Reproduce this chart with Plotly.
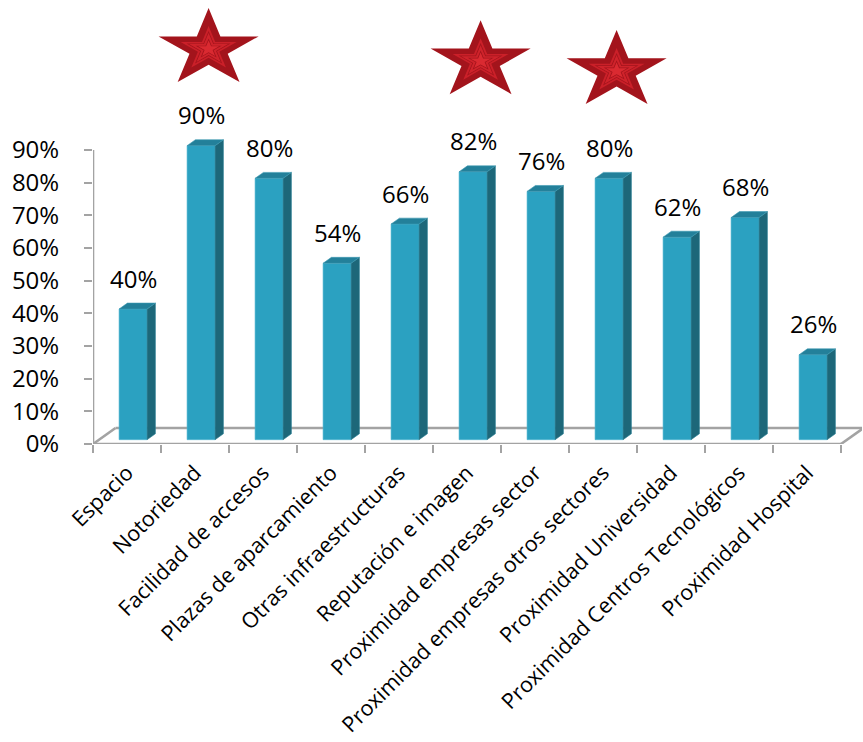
import math
import plotly.graph_objects as go

# ---- data -------------------------------------------------------------
categories = [
    "Espacio",
    "Notoriedad",
    "Facilidad de accesos",
    "Plazas de aparcamiento",
    "Otras infraestructuras",
    "Reputación e imagen",
    "Proximidad empresas sector",
    "Proximidad empresas otros sectores",
    "Proximidad Universidad",
    "Proximidad Centros Tecnológicos",
    "Proximidad Hospital",
]
values = [40, 90, 80, 54, 66, 82, 76, 80, 62, 68, 26]
y_ticks = [0, 10, 20, 30, 40, 50, 60, 70, 80, 90]
y_tick_labels = [f"{v}%" for v in y_ticks]
starred = ["Notoriedad", "Reputación e imagen", "Proximidad empresas otros sectores"]

# ---- layout / style ---------------------------------------------------
W, H = 863, 742
M_L, M_R, M_T, M_B = 93, 1, 0, 298
PX_X = 68.0          # pixels per category
PX_Y = 3.267         # pixels per percentage point
X0 = -0.5
X_RANGE = [X0, X0 + (W - M_L - M_R) / PX_X]
Y_RANGE = [0, (H - M_T - M_B) / PX_Y]

DEPTH_X = 22.5 / PX_X   # horizontal shift for the full floor depth
DEPTH_Y = 16.0 / PX_Y   # vertical shift for the full floor depth
Z_FRONT, Z_BACK = 0.27, 0.64
BAR_W = 28.0 / PX_X

FRONT = "#2BA1C1"
SIDE = "#1D6779"
TOP = "#23809A"
AXIS_GRAY = "#A3A3A3"
FONT = "Open Sans"

# star placement (category offset, centre height in %) and look
STAR_DX = 0.2
STAR_Y = [120.9, 117.2, 114.2]
STAR_RX, STAR_RY, STAR_INNER = 52.6, 40.9, 0.382
STAR_LAYERS = [(1.0, "#A3141C"), (0.56, "#CB2029"), (0.44, "#A3141C"),
               (0.39, "#CF232B"), (0.26, "#A3141C"), (0.21, "#DA2A31")]


def proj(x, y, z):
    return x + z * DEPTH_X, y + z * DEPTH_Y


fig = go.Figure()

base = Z_FRONT * DEPTH_Y
xs_front = [i + Z_FRONT * DEPTH_X for i in range(len(values))]
dz = Z_BACK - Z_FRONT

# front faces
fig.add_trace(go.Bar(
    x=xs_front, y=values, base=[base] * len(values), width=BAR_W,
    marker=dict(color=FRONT, line=dict(width=0.6, color="#4FB6D2")),
    hoverinfo="skip", showlegend=False,
))

# side and top faces
side_x, side_y, top_x, top_y = [], [], [], []
for xc, v in zip(xs_front, values):
    xl, xr = xc - BAR_W / 2, xc + BAR_W / 2
    yt = base + v
    pts = [(xr, base), (xr, yt), (xr + dz * DEPTH_X, yt + dz * DEPTH_Y),
           (xr + dz * DEPTH_X, base + dz * DEPTH_Y), (xr, base)]
    side_x += [p[0] for p in pts] + [None]
    side_y += [p[1] for p in pts] + [None]
    pts = [(xl, yt), (xr, yt), (xr + dz * DEPTH_X, yt + dz * DEPTH_Y),
           (xl + dz * DEPTH_X, yt + dz * DEPTH_Y), (xl, yt)]
    top_x += [p[0] for p in pts] + [None]
    top_y += [p[1] for p in pts] + [None]

fig.add_trace(go.Scatter(x=side_x, y=side_y, mode="lines", fill="toself",
                         fillcolor=SIDE, line=dict(width=0.6, color="#2A7F94"),
                         hoverinfo="skip", showlegend=False))
fig.add_trace(go.Scatter(x=top_x, y=top_y, mode="lines", fill="toself",
                         fillcolor=TOP, line=dict(width=0.6, color="#3A98B2"),
                         hoverinfo="skip", showlegend=False))

# value labels
for xc, v in zip(xs_front, values):
    fig.add_annotation(x=xc, y=base + v, text=f"{v}%", showarrow=False,
                       yanchor="middle", yshift=31,
                       font=dict(family=FONT, size=24, color="black"))

# stars over the highlighted categories
for name, cy in zip(starred, STAR_Y):
    cx = categories.index(name) + STAR_DX
    for scale, color in STAR_LAYERS:
        sx, sy = [], []
        for k in range(11):
            a = math.radians(90 + 36 * k)
            r = scale * (1.0 if k % 2 == 0 else STAR_INNER)
            sx.append(cx + r * STAR_RX * math.cos(a) / PX_X)
            sy.append(cy + r * STAR_RY * math.sin(a) / PX_Y)
        fig.add_trace(go.Scatter(x=sx, y=sy, mode="lines", fill="toself",
                                 fillcolor=color, line=dict(width=0),
                                 hoverinfo="skip", showlegend=False))

# floor and vertical axis line
n = len(categories)
fl, fr = X0, X0 + n
floor = [
    ((fl, 0), (fr, 0)),
    (proj(fl, 0, 1), proj(fr, 0, 1)),
    ((fl, 0), proj(fl, 0, 1)),
    ((fr, 0), proj(fr, 0, 1)),
    ((fl, 0), (fl, y_ticks[-1])),
]
for (a, b) in floor:
    fig.add_shape(type="line", x0=a[0], y0=a[1], x1=b[0], y1=b[1],
                  xref="x", yref="y", layer="below",
                  line=dict(color=AXIS_GRAY, width=2.6))

fig.update_layout(
    width=W, height=H,
    margin=dict(l=M_L, r=M_R, t=M_T, b=M_B, autoexpand=False),
    paper_bgcolor="white", plot_bgcolor="white",
    showlegend=False,
    xaxis=dict(
        range=X_RANGE, showgrid=False, zeroline=False, showline=False,
        automargin=False,
        tickmode="array", tickvals=list(range(n)), ticktext=categories,
        tickangle=-45, ticks="", ticklabelstandoff=11,
        tickfont=dict(family=FONT, size=21.5, color="black"),
        minor=dict(tickmode="array", tickvals=[X0 + k for k in range(n + 1)],
                   ticks="outside", ticklen=8, tickwidth=1.6,
                   tickcolor=AXIS_GRAY, showgrid=False),
        fixedrange=True,
    ),
    yaxis=dict(
        range=Y_RANGE, showgrid=False, zeroline=False, showline=False,
        automargin=False,
        tickmode="array", tickvals=y_ticks, ticktext=y_tick_labels,
        ticks="outside", ticklen=8, tickwidth=1.6, tickcolor=AXIS_GRAY,
        ticklabelstandoff=20,
        tickfont=dict(family=FONT, size=24, color="black"),
        fixedrange=True,
    ),
)

fig.write_html("out.html")
